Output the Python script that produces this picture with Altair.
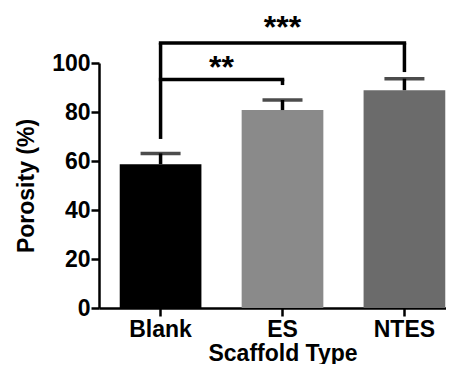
import altair as alt
import pandas as pd

categories = ["Blank", "ES", "NTES"]
porosity = [58.7, 80.8, 88.9]
error_upper = [63.1, 84.9, 93.6]
bar_colors = ["#000000", "#8a8a8a", "#6b6b6b"]

# significance brackets
h_from = ["Blank", "Blank"]
h_to = ["ES", "NTES"]
h_level = [93.3, 108.2]
v_cat = ["Blank", "ES", "NTES"]
v_low = [69.0, 91.0, 96.3]
v_high = [108.2, 93.3, 108.2]
star_labels = ["**", "***"]
star_cat = ["ES", "ES"]
star_y = [93.7, 110.2]

FONT = "Liberation Sans"

bars_df = pd.DataFrame({"cat": categories, "val": porosity, "err": error_upper})
h_df = pd.DataFrame({"a": h_from, "b": h_to, "y": h_level})
v_df = pd.DataFrame({"cat": v_cat, "lo": v_low, "hi": v_high})
s_df = pd.DataFrame({"label": star_labels, "cat": star_cat, "y": star_y})

xscale = alt.Scale(domain=categories, range=[0, 367], paddingInner=0.33, paddingOuter=0.17)
yscale = alt.Scale(domain=[0, 100], nice=False)

xaxis = alt.Axis(title="Scaffold Type", labelAngle=0, labelFontSize=23, labelFont=FONT,
                 labelFontWeight="bold", labelColor="black", titleFontSize=23, titleFont=FONT,
                 titleFontWeight="bold", titleColor="black", domainColor="black", domainWidth=2.5,
                 tickColor="black", tickWidth=2.5, tickSize=8, labelPadding=2, titlePadding=1)
yaxis = alt.Axis(title="Porosity (%)", values=[0, 20, 40, 60, 80, 100], grid=False,
                 labelFontSize=23, labelFont=FONT, labelFontWeight="bold", labelColor="black",
                 titleFontSize=23, titleFont=FONT, titleFontWeight="bold", titleColor="black",
                 domainColor="black", domainWidth=2.5, tickColor="black", tickWidth=2.5,
                 tickSize=8, labelPadding=1, titlePadding=13)

bars = alt.Chart(bars_df).mark_bar().encode(
    x=alt.X("cat:N", scale=xscale, axis=xaxis, sort=categories),
    y=alt.Y("val:Q", scale=yscale, axis=yaxis),
    color=alt.Color("cat:N", scale=alt.Scale(domain=categories, range=bar_colors), legend=None),
)

err_rule = alt.Chart(bars_df).mark_rule(color="black", strokeWidth=3.5).encode(
    x=alt.X("cat:N", scale=xscale, sort=categories),
    y=alt.Y("val:Q", scale=yscale),
    y2="err:Q",
)
err_cap = alt.Chart(bars_df).mark_tick(color="black", thickness=3.5, size=40, orient="horizontal").encode(
    x=alt.X("cat:N", scale=xscale, sort=categories),
    y=alt.Y("err:Q", scale=yscale),
)

h_rule = alt.Chart(h_df).mark_rule(color="black", strokeWidth=3.5, strokeCap="square").encode(
    x=alt.X("a:N", scale=xscale, sort=categories),
    x2="b:N",
    y=alt.Y("y:Q", scale=yscale),
)
v_rule = alt.Chart(v_df).mark_rule(color="black", strokeWidth=3.5).encode(
    x=alt.X("cat:N", scale=xscale, sort=categories),
    y=alt.Y("lo:Q", scale=yscale),
    y2="hi:Q",
)

stars_a = alt.Chart(s_df[s_df["label"] == "**"]).mark_text(fontSize=32, font=FONT, fontWeight="bold",
                                   color="black", baseline="alphabetic", align="center", dx=-61).encode(
    x=alt.X("cat:N", scale=xscale, sort=categories),
    y=alt.Y("y:Q", scale=yscale),
    text="label:N",
)
stars_b = alt.Chart(s_df[s_df["label"] == "***"]).mark_text(fontSize=32, font=FONT, fontWeight="bold",
                                   color="black", baseline="alphabetic", align="center").encode(
    x=alt.X("cat:N", scale=xscale, sort=categories),
    y=alt.Y("y:Q", scale=yscale),
    text="label:N",
)

chart = alt.layer(bars, err_rule, err_cap, h_rule, v_rule, stars_a, stars_b).properties(
    width=347, height=245,
    autosize=alt.AutoSizeParams(type="none"),
    padding={"left": 91, "top": 55, "right": 0, "bottom": 56},
).configure_view(stroke=None)

chart.save("out.html", embed_options={"renderer": "svg", "actions": False})
